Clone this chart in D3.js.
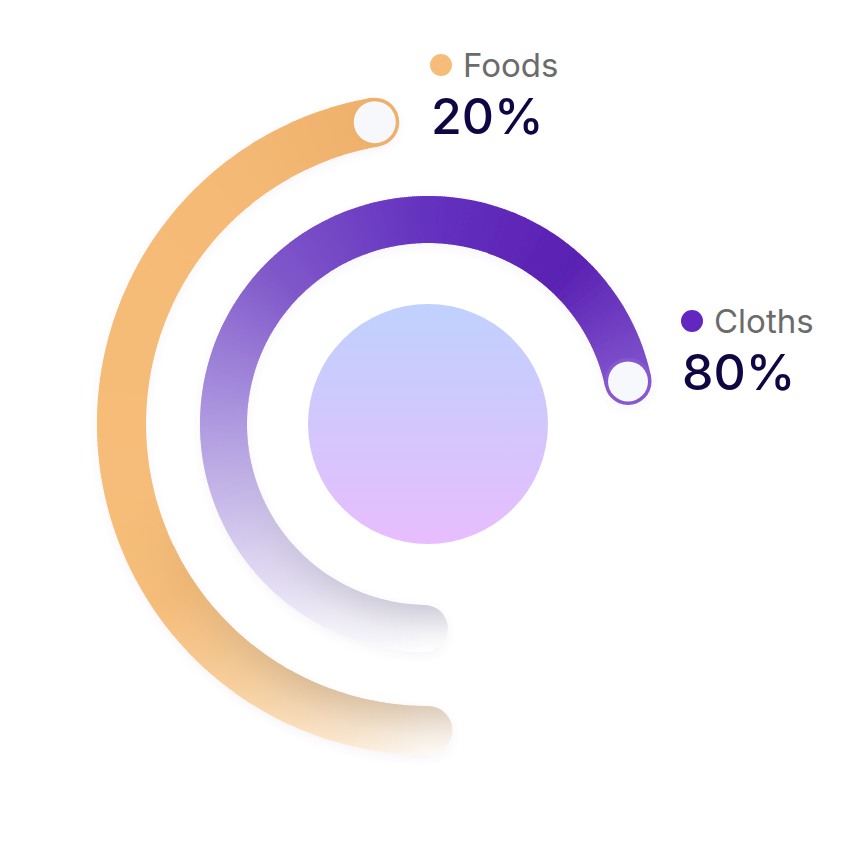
<!DOCTYPE html>
<html>
<head>
<meta charset="utf-8">
<script src="https://cdn.jsdelivr.net/npm/d3@7"></script>
<style>
  html, body { margin: 0; padding: 0; background: #ffffff; }
  svg { display: block; }
</style>
</head>
<body>
<svg id="chart" width="856" height="856"></svg>
<script>
// ---- data ----
const categories = ["Foods", "Cloths"];
const percentLabels = ["20%", "80%"];
const startDeg = [180, 181];     // where each ring begins (degrees, clockwise from top)
const sweepDeg = [170, 257];     // how far each ring runs

// colour stops along each ring (fraction of sweep -> colour)
const foodsStops = [0, 0.1, 0.22, 0.33, 0.8, 1];
const foodsColors = ["#fefaf5", "#fbe6cc", "#f8cf9c", "#f6bd7a", "#f5bb76", "#eeb16c"];
const clothStops = [0, 0.1, 0.2, 0.35, 0.52, 0.7, 0.86, 1];
const clothColors = ["#ffffff", "#f3f0f9", "#ddd4f2", "#ae98e0", "#7f57c9", "#6431bf", "#5a20b2", "#8256ce"];
// inner-edge shading strength along each ring
const foodsShadeStops = [0, 0.15, 0.3, 0.45];
const foodsShade = [0.85, 0.75, 0.35, 0];
const clothShadeStops = [0, 0.12, 0.25, 0.35];
const clothShade = [0.85, 0.65, 0.25, 0];

const legendColors = ["#f6bc7a", "#6127c0"];
const ringColors = ["#eeb16c", "#8658d0"];
const shadeColors = ["#a07a50", "#7c7698"];

// ---- layout ----
const svg = d3.select("#chart");
const cx = 428, cy = 424;
const radii = [[282, 331], [181, 228]];
const stopsList = [foodsStops, clothStops];
const colorsList = [foodsColors, clothColors];
const shadeStopsList = [foodsShadeStops, clothShadeStops];
const shadeList = [foodsShade, clothShade];

const defs = svg.append("defs");
const cg = defs.append("linearGradient").attr("id", "centerGrad")
  .attr("x1", 0).attr("y1", 0).attr("x2", 0).attr("y2", 1);
cg.append("stop").attr("offset", "0%").attr("stop-color", "#c0d1fd");
cg.append("stop").attr("offset", "50%").attr("stop-color", "#d2c7fc");
cg.append("stop").attr("offset", "100%").attr("stop-color", "#e8bdfd");

const sh = defs.append("filter").attr("id", "shadow")
  .attr("x", "-20%").attr("y", "-20%").attr("width", "140%").attr("height", "140%");
sh.append("feDropShadow").attr("dx", 0).attr("dy", 3).attr("stdDeviation", 4)
  .attr("flood-color", "#6a5a8a").attr("flood-opacity", 0.07);

const g = svg.append("g").attr("transform", `translate(${cx},${cy})`);
const rad = d => d * Math.PI / 180;

categories.forEach((cat, i) => {
  const [r0, r1] = radii[i];
  const rm = (r0 + r1) / 2;
  const half = (r1 - r0) / 2;
  const a0 = startDeg[i], a1 = startDeg[i] + sweepDeg[i];
  const angle = d3.scaleLinear().domain([0, 1]).range([a0, a1]);
  const color = d3.scaleLinear().domain(stopsList[i]).range(colorsList[i])
    .interpolate(d3.interpolateRgb);
  const shade = d3.scaleLinear().domain(shadeStopsList[i]).range(shadeList[i]).clamp(true);
  const arc = d3.arc().innerRadius(r0).outerRadius(r1);
  const n = Math.round(sweepDeg[i] * 2);
  const segs = d3.range(n).map(k => ({ k, t0: k / n, t1: (k + 1) / n, tm: (k + 0.5) / n }));

  // fill for a position t: flat colour, or radial shading (darker inner edge) near the tail
  const fillFor = (t, id) => {
    const base = color(t);
    const s = shade(t);
    if (s <= 0) return base;
    const mix = d3.interpolateRgb(base, shadeColors[i]);
    const rg = defs.append("radialGradient").attr("id", id)
      .attr("gradientUnits", "userSpaceOnUse").attr("cx", 0).attr("cy", 0).attr("r", r1);
    rg.append("stop").attr("offset", r0 / r1).attr("stop-color", mix(0.42 * s));
    rg.append("stop").attr("offset", (r0 + half * 1.2) / r1).attr("stop-color", mix(0.12 * s));
    rg.append("stop").attr("offset", 1).attr("stop-color", base);
    return `url(#${id})`;
  };

  const ring = g.append("g").attr("filter", "url(#shadow)");
  const pt = t => { const a = rad(angle(t)); return [rm * Math.sin(a), -rm * Math.cos(a)]; };
  const s = pt(0);
  ring.append("circle").attr("cx", s[0]).attr("cy", s[1]).attr("r", half)
    .attr("fill", fillFor(0, `cap${i}`));
  ring.selectAll("path.seg").data(segs).join("path")
    .attr("class", "seg")
    .attr("d", d => arc({ startAngle: rad(angle(d.t0)), endAngle: rad(angle(d.t1)) + 0.004 }))
    .attr("fill", d => fillFor(d.tm, `g${i}_${d.k}`));
  const e = pt(1);
  ring.append("circle").attr("cx", e[0]).attr("cy", e[1]).attr("r", half).attr("fill", ringColors[i]);
  g.append("circle").attr("cx", e[0]).attr("cy", e[1]).attr("r", half - 3.5).attr("fill", "#f6f8fb");
});

g.append("circle").attr("r", 120).attr("fill", "url(#centerGrad)");

// ---- legends ----
const legendPos = [[441, 65], [692, 321]];
categories.forEach((cat, i) => {
  const [lx, ly] = legendPos[i];
  svg.append("circle").attr("cx", lx).attr("cy", ly).attr("r", 11).attr("fill", legendColors[i]);
  svg.append("text").attr("x", lx + 22).attr("y", ly + 12)
    .attr("font-family", "Inter, 'Noto Sans', sans-serif").attr("font-size", 33)
    .attr("fill", "#6b6b6b").text(cat);
  svg.append("text").attr("x", lx - 10).attr("y", ly + 69)
    .attr("font-family", "Inter, 'Noto Sans', sans-serif").attr("font-size", 50)
    .attr("font-weight", 500).attr("fill", "#0e0744").text(percentLabels[i]);
});
</script>
</body>
</html>
